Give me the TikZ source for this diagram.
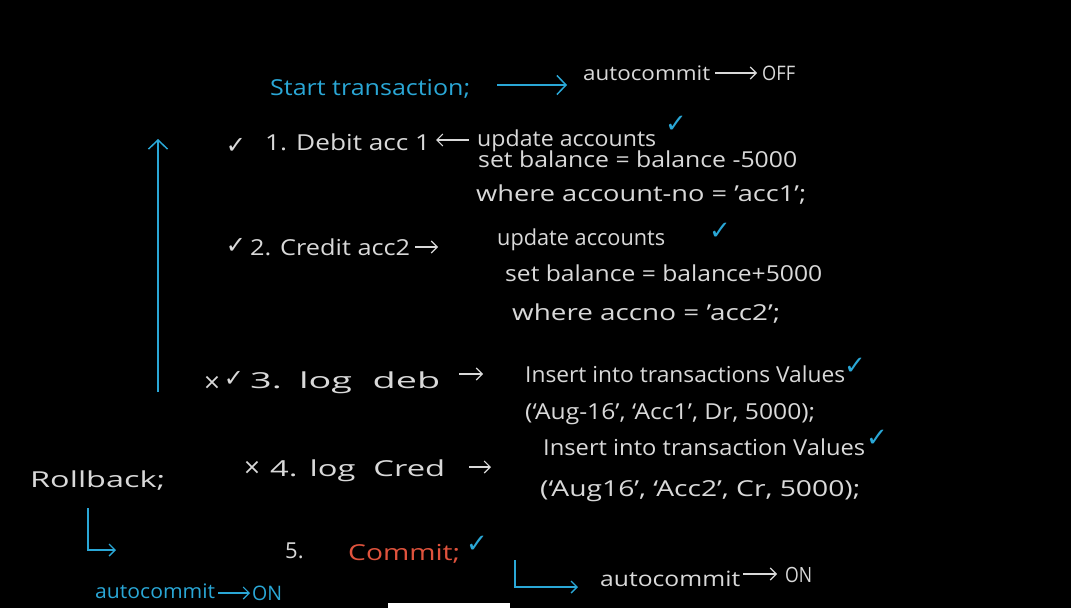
\documentclass[tikz,border=0pt]{standalone}
\usepackage{graphicx}
\usepackage{fontspec}
\setmainfont{Open Sans}
\newfontfamily\symf{DejaVu Sans}
\usetikzlibrary{arrows.meta}
\definecolor{ink}{HTML}{D9D9D9}
\definecolor{cyanink}{HTML}{2AA7D6}
\definecolor{redink}{HTML}{E0533D}
\newcommand\fw[2]{\resizebox{#1pt}{\height}{#2}}
\begin{document}
\begin{tikzpicture}[x=1pt,y=-1pt,
  txt/.style={text=ink, font=\fontsize{22}{26}\selectfont, anchor=base west, inner sep=0pt},
  ctxt/.style={txt, text=cyanink},
  rtxt/.style={txt, text=redink},
  chk/.style={text=ink, font=\symf\fontsize{24}{26}\selectfont, inner sep=0pt},
  xmk/.style={text=ink, font=\symf\fontsize{22}{26}\selectfont, inner sep=0pt},
  cchk/.style={chk, text=cyanink, font=\symf\fontsize{26}{28}\selectfont},
  conn/.style={draw=ink, line width=1.1pt, -{Straight Barb[length=6pt,width=12pt]}},
  cconn/.style={conn, draw=cyanink},
  bigc/.style={draw=cyanink, line width=1.5pt, -{Straight Barb[length=9pt,width=19pt]}},
]
\fill[black] (0,0) rectangle (1071,608);
\useasboundingbox (0,0) rectangle (1071,608);

% header
\node[ctxt] (start) at (270,95) {\fw{200}{Start transaction;}};
\node[txt, font=\fontsize{20}{24}\selectfont] (acoff) at (583,80) {\fw{127}{autocommit}};
\node[txt, font=\fontsize{20}{24}\selectfont] (off) at (762,80) {\fw{33}{OFF}};
\coordinate (st1) at (497,85);
\coordinate (st2) at (567,85);
\draw[bigc] (st1) -- (st2);
\coordinate (of1) at (715,73);
\coordinate (of2) at (757,73);
\draw[conn] (of1) -- (of2);

% long up arrow
\coordinate (upbot) at (158,392);
\coordinate (uptop) at (158,139);
\draw[bigc] (upbot) -- (uptop);

% step 1
\node[chk] (c1) at (236,146) {✓};
\node[txt] (s1) at (265,150) {\fw{165}{1. Debit acc 1}};
\node[txt] (u1) at (477,146) {\fw{179}{update accounts}};
\node[cchk] (cu1) at (676,124) {✓};
\node[txt] (b1) at (478,167) {\fw{319}{set balance = balance -5000}};
\node[txt] (w1) at (476,201) {\fw{330}{where account-no = 'acc1';}};
\coordinate (a1s) at (469,140);
\coordinate (a1e) at (436,140);
\draw[conn] (a1s) -- (a1e);

% step 2
\node[chk] (c2) at (236,246) {✓};
\node[txt] (s2) at (250,255) {\fw{160}{2. Credit acc2}};
\node[txt] (u2) at (497,245) {\fw{168}{update accounts}};
\node[cchk] (cu2) at (720,231) {✓};
\node[txt] (b2) at (505,281) {\fw{317}{set balance = balance+5000}};
\node[txt] (w2) at (512,320) {\fw{268}{where accno = 'acc2';}};
\coordinate (a2s) at (415,247);
\coordinate (a2e) at (438,247);
\draw[conn] (a2s) -- (a2e);

% step 3
\node[xmk] (x3) at (212,383) {×};
\node[chk] (c3) at (234,379) {✓};
\node[txt] (s3) at (250,388) {\fw{190}{3.\hspace{10pt}log\hspace{12pt}deb}};
\node[txt] (i3) at (525,382) {\fw{320}{Insert into transactions Values}};
\node[cchk] (ci3) at (855,366) {✓};
\node[txt] (v3) at (525,419) {\fw{290}{(`Aug-16', `Acc1', Dr, 5000);}};
\coordinate (a3s) at (459,374);
\coordinate (a3e) at (483,374);
\draw[conn] (a3s) -- (a3e);

% rollback + step 4
\node[txt] (rb) at (30,487) {\fw{135}{Rollback;}};
\node[xmk] (x4) at (252,468) {×};
\node[txt] (s4) at (270,476) {\fw{175}{4.\hspace{8pt}log\hspace{12pt}Cred}};
\node[txt] (i4) at (543,455) {\fw{322}{Insert into transaction Values}};
\node[cchk] (ci4) at (877,438) {✓};
\node[txt] (v4) at (540,496) {\fw{320}{(`Aug16', `Acc2', Cr, 5000);}};
\coordinate (a4s) at (469,467);
\coordinate (a4e) at (491,467);
\draw[conn] (a4s) -- (a4e);

% step 5
\node[txt] (s5) at (285,558) {5.};
\node[rtxt] (cm) at (348,560) {\fw{112}{Commit;}};
\node[cchk] (c5) at (477,544) {✓};

% rollback branch
\coordinate (rb1) at (88,508);
\coordinate (rb2) at (88,550);
\coordinate (rb3) at (116,550);
\draw[cconn, line width=1.4pt] (rb1) -- (rb2) -- (rb3);
\node[ctxt, font=\fontsize{20}{24}\selectfont] (rbac) at (95,598) {\fw{120}{autocommit}};
\node[ctxt, font=\fontsize{20}{24}\selectfont] (rbon) at (252,600) {\fw{30}{ON}};
\coordinate (rba1) at (218,593);
\coordinate (rba2) at (250,593);
\draw[cconn] (rba1) -- (rba2);

% commit branch
\coordinate (cb1) at (515,560);
\coordinate (cb2) at (515,587);
\coordinate (cb3) at (578,587);
\draw[cconn, line width=1.4pt] (cb1) -- (cb2) -- (cb3);
\node[txt, font=\fontsize{21}{24}\selectfont] (cbac) at (600,586) {\fw{140}{autocommit}};
\node[txt, font=\fontsize{21}{24}\selectfont] (cbon) at (785,582) {\fw{27}{ON}};
\coordinate (cba1) at (743,574);
\coordinate (cba2) at (777,574);
\draw[conn] (cba1) -- (cba2);

% white strip at bottom
\fill[white] (388,603) rectangle (510,608);
\end{tikzpicture}
\end{document}
